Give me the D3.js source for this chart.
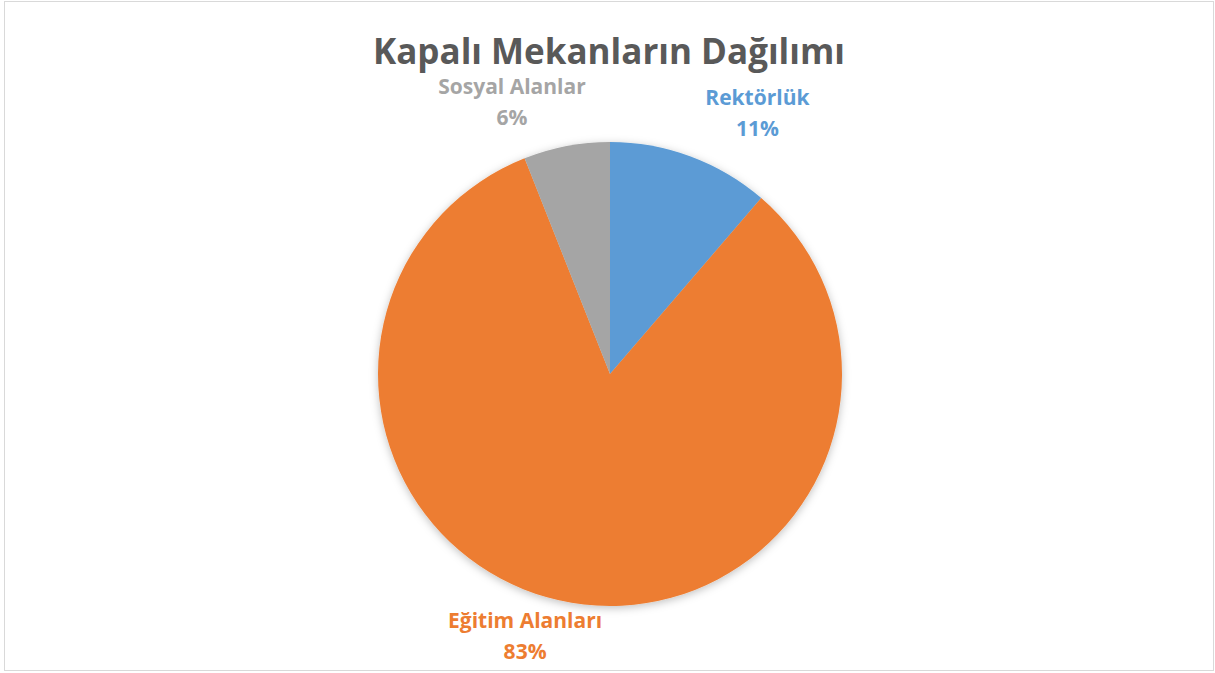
<!DOCTYPE html>
<html>
<head>
<meta charset="utf-8">
<script src="https://cdn.jsdelivr.net/npm/d3@7"></script>
<style>
  html, body { margin: 0; padding: 0; background: #fff; }
  svg { display: block; }
</style>
</head>
<body>
<svg id="chart"></svg>
<script>
// Kapalı Mekanların Dağılımı - pasta grafiği
const categories = ["Rektörlük", "Eğitim Alanları", "Sosyal Alanlar"]
const values = [11.3, 82.7, 6.0]
const percentLabels = ["11%", "83%", "6%"]
const colors = ["#5B9BD5", "#ED7D31", "#A5A5A5"]

// etiket kaydırmaları (Excel "best fit" yerleşimine yaklaşmak için)
const labelNudge = [[49, 4], [-38, -17], [-45, 6]]

const width = 1215
const height = 673
const cx = 610
const cy = 374
const radius = 232

const svg = d3.select("#chart")
    .attr("width", width)
    .attr("height", height)

// çerçeve
svg.append("rect")
    .attr("x", 4.5).attr("y", 1.5)
    .attr("width", 1209).attr("height", 669)
    .attr("fill", "#fff")
    .attr("stroke", "#D9D9D9")
    .attr("stroke-width", 1)

// başlık
svg.append("text")
    .attr("x", 609)
    .attr("y", 64)
    .attr("text-anchor", "middle")
    .style("font-family", "'Open Sans', sans-serif")
    .style("font-weight", "bold")
    .style("font-size", "35px")
    .attr("fill", "#595959")
    .text("Kapalı Mekanların Dağılımı")

const defs = svg.append("defs")
const filter = defs.append("filter").attr("id", "shadow")
    .attr("x", "-20%").attr("y", "-20%").attr("width", "140%").attr("height", "140%")
filter.append("feDropShadow")
    .attr("dx", 0).attr("dy", 2)
    .attr("stdDeviation", 4)
    .attr("flood-color", "#000")
    .attr("flood-opacity", 0.25)

const data = categories.map((c, i) => ({ name: c, value: values[i], label: percentLabels[i], color: colors[i], i: i }))

const pie = d3.pie().sort(null).value(d => d.value)
const arcs = pie(data)

const arc = d3.arc().innerRadius(0).outerRadius(radius)
const labelArc = d3.arc().innerRadius(radius * 1.22).outerRadius(radius * 1.22)

const g = svg.append("g").attr("transform", `translate(${cx},${cy})`)

g.append("g").attr("filter", "url(#shadow)")
    .selectAll("path")
    .data(arcs)
    .join("path")
    .attr("d", arc)
    .attr("fill", d => d.data.color)

const labels = g.selectAll("text.lbl")
    .data(arcs)
    .join("text")
    .attr("class", "lbl")
    .attr("text-anchor", "middle")
    .style("font-family", "'Open Sans', sans-serif")
    .style("font-weight", "bold")
    .style("font-size", "21px")
    .attr("fill", d => d.data.color)
    .attr("transform", d => {
        const c = labelArc.centroid(d)
        const n = labelNudge[d.data.i]
        return `translate(${c[0] + n[0]},${c[1] + n[1]})`
    })

labels.append("tspan").attr("x", 0).attr("dy", "-0.38em").text(d => d.data.name)
labels.append("tspan").attr("x", 0).attr("dy", "1.48em").text(d => d.data.label)
</script>
</body>
</html>
